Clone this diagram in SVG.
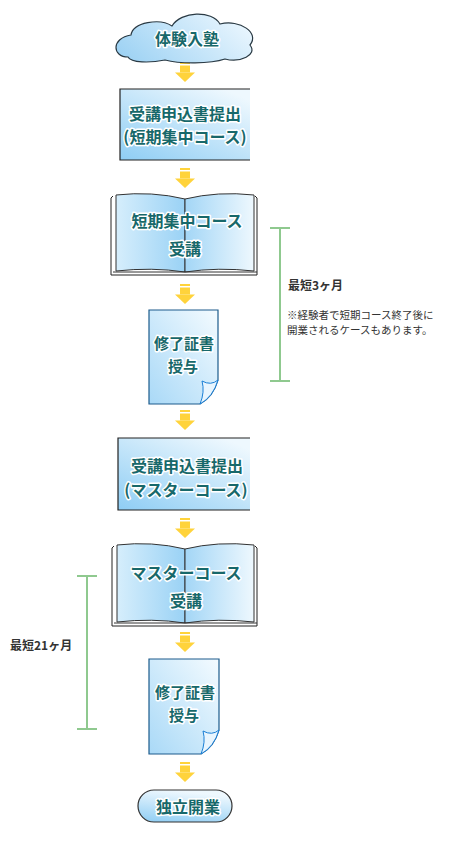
<svg xmlns="http://www.w3.org/2000/svg" width="457" height="848" viewBox="0 0 457 848">
<defs>
<linearGradient id="gRect" x1="0" y1="1" x2="0.8" y2="0">
<stop offset="0" stop-color="#8ecdf4"/><stop offset="1" stop-color="#eef8fe"/>
</linearGradient>
<linearGradient id="gCloud" x1="0" y1="0.7" x2="1" y2="0.3">
<stop offset="0" stop-color="#9fd3f4"/><stop offset="1" stop-color="#eaf6fe"/>
</linearGradient>
<linearGradient id="gLeft" x1="0" y1="0" x2="1" y2="0">
<stop offset="0" stop-color="#d6eefc"/><stop offset="1" stop-color="#9ad2f5"/>
</linearGradient>
<linearGradient id="gRight" x1="0" y1="0" x2="1" y2="0">
<stop offset="0" stop-color="#a3d6f6"/><stop offset="1" stop-color="#eef8fe"/>
</linearGradient>
<linearGradient id="gDoc" x1="0" y1="1" x2="1" y2="0">
<stop offset="0" stop-color="#a9d9f7"/><stop offset="1" stop-color="#f4fbff"/>
</linearGradient>
<linearGradient id="gPill" x1="0" y1="1" x2="0.3" y2="0">
<stop offset="0" stop-color="#8ecdf4"/><stop offset="1" stop-color="#eef8fe"/>
</linearGradient>
<g id="arrow">
<rect x="180" y="0" width="10" height="2"/>
<rect x="180" y="3.5" width="10" height="7"/>
<polygon points="175,10.5 195,10.5 185,20"/>
</g>
</defs>
<style>
.lbl{font-family:"Noto Sans CJK JP","Noto Sans",sans-serif;font-size:16px;font-weight:bold;fill:#17686a;stroke:#ffffff;stroke-width:3;paint-order:stroke;stroke-linejoin:round;text-anchor:middle;dominant-baseline:central}
.sm{font-size:15px}
.edge{stroke:#222;stroke-width:1.2}
.book{fill:#fff;stroke:#222;stroke-width:1}
.doc{stroke:#1c5b8c;stroke-width:1.2}
.curl{fill:#e8f5fe;stroke:#1a7fd6;stroke-width:1}
.arr{fill:#ffd33b}
.brk{stroke:#8fc98f;stroke-width:2;fill:none}
.note{font-family:"Noto Sans CJK JP","Noto Sans",sans-serif;fill:#333}
</style>

<g id="connectors" class="arr">
<use href="#arrow" y="62"/>
<use href="#arrow" y="168"/>
<use href="#arrow" y="284"/>
<use href="#arrow" y="410"/>
<use href="#arrow" y="518"/>
<use href="#arrow" y="632"/>
<use href="#arrow" y="762"/>
</g>

<g id="start">
<path d="M128 57 C112 57 111 38 131 35 C133 22 160 18 172 26 C181 11 212 10 220 24 C240 19 260 33 250 45 C258 55 240 63 225 59 C210 64 180 64 165 60 C150 63 131 63 128 57 Z" fill="url(#gCloud)" stroke="#2a3a44" stroke-width="1.2"/>
<text class="lbl" x="187" y="38">体験入塾</text>
</g>

<g id="apply1">
<rect x="120" y="89" width="130" height="71" fill="url(#gRect)"/>
<path class="edge" d="M250 89 H120 V160 H250" fill="none"/>
<text class="lbl" x="185" y="113">受講申込書提出</text>
<text class="lbl" x="185" y="136">(短期集中コース)</text>
</g>

<g id="course1">
<path class="book" d="M113 196 L111 198 V275 H257 V198 L255 196"/>
<path d="M116 195 Q152 191 185 199 V272 Q152 267 116 271 Z" fill="url(#gLeft)" stroke="#333" stroke-width="1"/>
<path d="M254 195 Q218 191 185 199 V272 Q218 267 254 271 Z" fill="url(#gRight)" stroke="#333" stroke-width="1"/>
<path d="M113 272 H185 H257" stroke="#333" stroke-width="1" fill="none"/>
<text class="lbl" x="187" y="220">短期集中コース</text>
<text class="lbl" x="185" y="248">受講</text>
</g>

<g id="cert1">
<path class="doc" d="M149 310 H218 V380 Q213 397 200 404 H149 Z" fill="url(#gDoc)"/>
<path class="curl" d="M200 404 Q205 392 202 381 Q211 386 218 380 Q213 397 200 404 Z"/>
<text class="lbl sm" x="184" y="342">修了証書</text>
<text class="lbl sm" x="183" y="365">授与</text>
</g>

<g id="apply2">
<rect x="118" y="438" width="132" height="72" fill="url(#gRect)"/>
<path class="edge" d="M250 438 H118 V510 H250" fill="none"/>
<text class="lbl" x="187" y="465">受講申込書提出</text>
<text class="lbl" x="186" y="489">(マスターコース)</text>
</g>

<g id="course2">
<path class="book" d="M114 546 L112 548 V626 H257 V548 L255 546"/>
<path d="M117 545 Q152 541 185 549 V623 Q152 618 117 622 Z" fill="url(#gLeft)" stroke="#333" stroke-width="1"/>
<path d="M254 545 Q218 541 185 549 V623 Q218 618 254 622 Z" fill="url(#gRight)" stroke="#333" stroke-width="1"/>
<path d="M114 623 H257" stroke="#333" stroke-width="1" fill="none"/>
<text class="lbl" x="186" y="572">マスターコース</text>
<text class="lbl" x="186" y="600">受講</text>
</g>

<g id="cert2">
<path class="doc" d="M149 659 H219 V730 Q214 747 201 754 H149 Z" fill="url(#gDoc)"/>
<path class="curl" d="M201 754 Q206 742 203 731 Q212 736 219 730 Q214 747 201 754 Z"/>
<text class="lbl sm" x="185" y="691">修了証書</text>
<text class="lbl sm" x="184" y="714">授与</text>
</g>

<g id="end">
<rect x="138" y="790" width="94" height="32" rx="16" fill="url(#gPill)" stroke="#333" stroke-width="1.2"/>
<text class="lbl" x="188" y="806">独立開業</text>
</g>

<g id="span1">
<path class="brk" d="M280 228 V381 M270 228 H290 M270 381 H290"/>
<text class="note" x="288" y="290" font-size="12" font-weight="bold">最短3ヶ月</text>
<text class="note" x="287" y="319" font-size="10.5">※経験者で短期コース終了後に</text>
<text class="note" x="287" y="334" font-size="10.5">開業されるケースもあります。</text>
</g>

<g id="span2">
<path class="brk" d="M87 576 V729 M77 576 H97 M77 729 H97"/>
<text class="note" x="10" y="650" font-size="12" font-weight="bold">最短21ヶ月</text>
</g>
</svg>
